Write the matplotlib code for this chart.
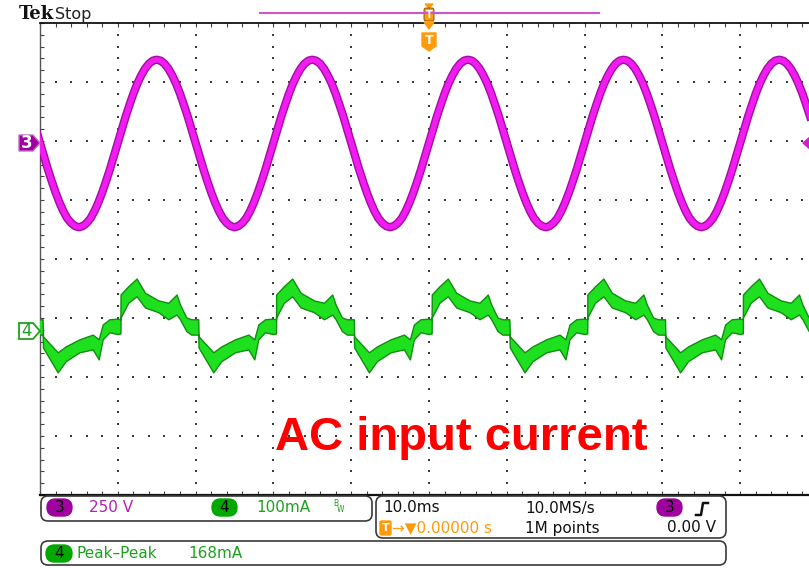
import numpy as np
import matplotlib
matplotlib.use("Agg")
import matplotlib.pyplot as plt
from matplotlib.patches import FancyBboxPatch, Polygon

# ch3: AC line voltage, one 20 ms cycle read every 0.5 ms (V)
volt_ms = np.arange(41) * 0.5
volt_cycle = np.array([0, 55, 110, 160, 208, 250, 285, 314, 335, 348, 352,
                       348, 335, 314, 285, 250, 208, 160, 110, 55, 0,
                       -56, -111, -162, -210, -253, -290, -320, -340, -353,
                       -358, -353, -340, -320, -290, -253, -210, -162, -111,
                       -56, 0])

# ch4: AC input current, upper/lower edge of the trace over one cycle (mA)
curr_ms = np.array([0.0, 0.40, 0.42, 1.41, 2.48, 3.56, 5.27, 6.56, 7.62, 8.06,
                    8.87, 9.51, 10.40, 10.45, 12.34, 13.37, 15.13, 16.84,
                    17.61, 18.12, 18.98, 20.0])
curr_hi = np.array([20, 19, 61, 75, 88, 64, 51, 47, 61, 44, 22, 19, 19, -10,
                    -37, -27, -15, -7, -15, 10, 19, 20])
curr_lo = np.array([-6, -5, 22, 47, 58, 39, 31, 19, 27, 19, -1, -7, -7, -29,
                    -71, -52, -37, -32, -49, -15, -3, -6])

cycles = np.arange(-3, 3)        # 20 ms cycles covering the 100 ms screen
V_DIV, I_DIV = 250.0, 100.0      # volts / amps per division
CH3_POS, CH4_POS = 1.97, -1.22   # channel offsets in divisions

W, H = 809, 568
fig = plt.figure(figsize=(W / 100, H / 100), dpi=100)
fig.patch.set_facecolor("white")

# scope screen: 10 x 8 divisions, right edge runs past the picture
ax = fig.add_axes([40 / W, 1 - 495 / H, 778 / W, 472 / H])
ax.set_xlim(-50, 50)
ax.set_ylim(-4, 4)
ax.set_facecolor("white")

for s in ["top", "bottom"]:
    ax.spines[s].set_color("#111111")
ax.spines["top"].set_linewidth(1.3)
ax.spines["bottom"].set_linewidth(1.6)
ax.spines["left"].set_color("#555555")
ax.spines["left"].set_linewidth(1.0)
ax.spines["right"].set_visible(False)

ax.set_xticks(np.arange(-50, 51, 2))
ax.set_yticks(np.arange(-4, 4.01, 0.2))
ax.tick_params(direction="in", length=3, width=0.8, color="#444444",
               top=True, bottom=True, left=True, right=False,
               labelbottom=False, labelleft=False)

# dotted graticule
gx, gy = [], []
for x0 in np.arange(-40, 41, 10):
    yy = np.arange(-4, 4.01, 0.2)
    gx += [x0] * len(yy)
    gy += list(yy)
for y0 in np.arange(-3, 4, 1):
    xx = np.arange(-50, 51, 2)
    gx += list(xx)
    gy += [y0] * len(xx)
ax.scatter(gx, gy, s=0.9, marker="s", color="#3c3c3c", linewidths=0, zorder=1)

# ch3 voltage trace
t_v = np.concatenate([volt_ms[:-1] + 20 * k for k in cycles] + [[60]])
v = np.concatenate([np.tile(volt_cycle[:-1], len(cycles)), [volt_cycle[-1]]])
ax.plot(t_v, v / V_DIV + CH3_POS, color="#a50ca5", lw=6.0,
        solid_joinstyle="round", zorder=3)
ax.plot(t_v, v / V_DIV + CH3_POS, color="#f01cf0", lw=4.0,
        solid_joinstyle="round", zorder=4)

# ch4 current trace (band between edges)
t_i = np.concatenate([curr_ms[:-1] + 20 * k for k in cycles] + [[60]])
hi = np.concatenate([np.tile(curr_hi[:-1], len(cycles)), [curr_hi[-1]]])
lo = np.concatenate([np.tile(curr_lo[:-1], len(cycles)), [curr_lo[-1]]])
ax.fill_between(t_i, lo / I_DIV + CH4_POS, hi / I_DIV + CH4_POS,
                facecolor="#1fe01f", edgecolor="#0e8f0e", lw=1.0, zorder=3)

# overlay in pixel coordinates for the scope annotations
ov = fig.add_axes([0, 0, 1, 1])
ov.set_xlim(0, W)
ov.set_ylim(H, 0)
ov.axis("off")
ov.patch.set_alpha(0)

MAG, GRN, ORG = "#b022b0", "#1fa01f", "#ff9a0a"
FONT = "DejaVu Sans"


def pill(x, y, w, h, label, fc):
    ov.add_patch(FancyBboxPatch((x, y), w, h, facecolor=fc, edgecolor=fc,
                                boxstyle=f"round,pad=0,rounding_size={h / 2}"))
    ov.text(x + w / 2, y + h / 2 + 0.5, label, color="black", fontsize=11,
            family=FONT, ha="center", va="center")


def panel(x, y, w, h):
    ov.add_patch(FancyBboxPatch((x, y), w, h, facecolor="white",
                                edgecolor="#3a3a3a", lw=1.2,
                                boxstyle="round,pad=0,rounding_size=7"))


# header
ov.text(19, 14, "Tek", fontsize=13, fontweight="bold", family="DejaVu Serif",
        va="center", ha="left", color="#111111")
ov.text(55, 14, "Stop", fontsize=11.5, family=FONT, va="center", ha="left",
        color="#222222")
ov.plot([260, 599], [13, 13], color="#cc55cc", lw=1.5)

# trigger position markers
ov.add_patch(Polygon([(425, 4), (433, 4), (429, 8)], closed=True,
                     facecolor=ORG, edgecolor=ORG))
ov.add_patch(FancyBboxPatch((424, 8), 10, 13, facecolor=ORG, edgecolor="#6a4a10",
                            lw=0.6, boxstyle="round,pad=0,rounding_size=2"))
ov.text(429, 14.5, "T", color="white", fontsize=7, fontweight="bold",
        ha="center", va="center", family=FONT)
ov.add_patch(Polygon([(424, 22), (434, 22), (429, 29)], closed=True,
                     facecolor=ORG, edgecolor=ORG))
ov.add_patch(Polygon([(422, 33), (436, 33), (436, 46), (429, 51), (422, 46)],
                     closed=True, facecolor=ORG, edgecolor=ORG))
ov.text(429, 41, "T", color="white", fontsize=9, fontweight="bold",
        ha="center", va="center", family=FONT)

# channel ground markers
ov.add_patch(Polygon([(19, 135), (33, 135), (40, 143), (33, 151), (19, 151)],
                     closed=True, facecolor="#a000a0", edgecolor="#c070c0", lw=1))
ov.text(27, 143.5, "3", color="white", fontsize=12, fontweight="bold",
        ha="center", va="center", family=FONT)
ov.add_patch(Polygon([(19, 323), (33, 323), (40, 331), (33, 339), (19, 339)],
                     closed=True, facecolor="white", edgecolor=GRN, lw=1.3))
ov.text(27, 331.5, "4", color=GRN, fontsize=12, ha="center", va="center",
        family=FONT)
ov.add_patch(Polygon([(810, 137), (803, 143), (810, 149)], closed=True,
                     facecolor="#d020d0", edgecolor="#d020d0"))

# annotation
ov.text(275, 450, "AC input current", color="#ff0000", fontsize=34,
        fontweight="bold", family="Liberation Sans", ha="left", va="baseline")

# bottom readouts
panel(41, 496, 331, 25)
pill(47, 499, 25, 17, "3", "#a000a0")
ov.text(89, 508, "250 V", color=MAG, fontsize=11, family=FONT, va="center")
pill(212, 499, 25, 17, "4", "#00a800")
ov.text(256, 508, "100mA", color=GRN, fontsize=11, family=FONT, va="center")
ov.text(333, 504, "B", color=GRN, fontsize=5.5, family=FONT, va="center")
ov.text(337, 509, "W", color=GRN, fontsize=5.5, family=FONT, va="center")

panel(376, 496, 350, 42)
ov.text(383, 508, "10.0ms", color="#111111", fontsize=11, family=FONT,
        va="center")
ov.text(525, 508, "10.0MS/s", color="#111111", fontsize=11, family=FONT,
        va="center")
pill(657, 499, 25, 17, "3", "#a000a0")
ov.plot([696, 701, 703, 708], [515, 515, 503, 503], color="#111111", lw=1.8)
ov.add_patch(FancyBboxPatch((380, 521), 11, 14, facecolor=ORG, edgecolor=ORG,
                            boxstyle="round,pad=0,rounding_size=1.5"))
ov.text(385.5, 528, "T", color="white", fontsize=8, fontweight="bold",
        ha="center", va="center", family=FONT)
ov.text(392, 528, "\u2192\u25bc0.00000 s", color=ORG, fontsize=11, family=FONT,
        va="center")
ov.text(525, 528, "1M points", color="#111111", fontsize=11, family=FONT,
        va="center")
ov.text(716, 528, "0.00 V", color="#111111", fontsize=11, family=FONT,
        va="center", ha="right")

panel(41, 541, 685, 24)
pill(46, 545, 26, 17, "4", "#00a800")
ov.text(77, 553, "Peak\u2013Peak", color=GRN, fontsize=11, family=FONT,
        va="center")
ov.text(188, 553, "168mA", color=GRN, fontsize=11, family=FONT, va="center")

fig.savefig("out.png", dpi=100, facecolor="white")
